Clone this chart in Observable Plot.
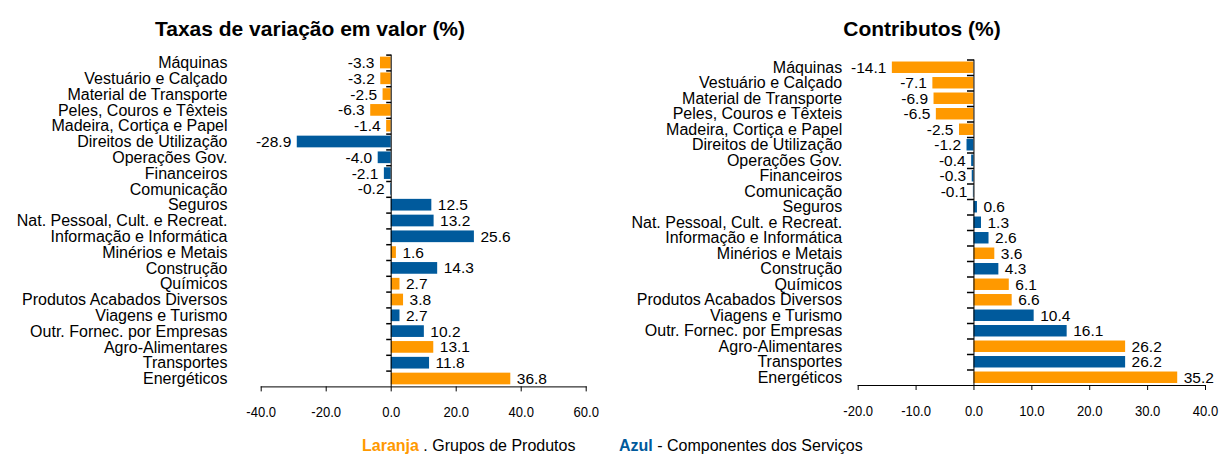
<!DOCTYPE html>
<html><head><meta charset="utf-8">
<script src="https://cdn.jsdelivr.net/npm/d3@7"></script>
<script src="https://cdn.jsdelivr.net/npm/@observablehq/plot@0.6"></script>
<style>
body{margin:0;background:#fff;font-family:"Liberation Sans",Arial,sans-serif;color:#000;}
#wrap{position:relative;width:1219px;height:455px;overflow:hidden;}
.title{position:absolute;top:18px;font-weight:bold;font-size:21px;line-height:21px;text-align:center;white-space:nowrap;}
.chart{position:absolute;top:40px;}
.leg{position:absolute;top:438px;font-size:16px;line-height:16px;white-space:nowrap;}
</style></head><body>
<div id="wrap">
<div class="title" style="left:0;width:620px">Taxas de variação em valor (%)</div>
<div class="title" style="left:609px;width:626px">Contributos (%)</div>
<div class="chart" id="c1" style="left:0"></div>
<div class="chart" id="c2" style="left:609px"></div>
<div class="leg" style="left:362px"><b style="color:#ff9900">Laranja</b> . Grupos de Produtos</div>
<div class="leg" style="left:619px"><b style="color:#005a9c">Azul</b> - Componentes dos Serviços</div>
</div>
<script>
const categories = [
  "Máquinas", "Vestuário e Calçado", "Material de Transporte", "Peles, Couros e Têxteis",
  "Madeira, Cortiça e Papel", "Direitos de Utilização", "Operações Gov.", "Financeiros",
  "Comunicação", "Seguros", "Nat. Pessoal, Cult. e Recreat.", "Informação e Informática",
  "Minérios e Metais", "Construção", "Químicos", "Produtos Acabados Diversos",
  "Viagens e Turismo", "Outr. Fornec. por Empresas", "Agro-Alimentares", "Transportes", "Energéticos"
];
// P = Grupos de Produtos (laranja), S = Componentes dos Serviços (azul)
const groups = ["P","P","P","P","P","S","S","S","S","S","S","S","P","S","P","P","S","S","P","S","P"];
const taxas = [-3.3, -3.2, -2.5, -6.3, -1.4, -28.9, -4.0, -2.1, -0.2, 12.5, 13.2, 25.6, 1.6, 14.3, 2.7, 3.8, 2.7, 10.2, 13.1, 11.8, 36.8];
const contributos = [-14.1, -7.1, -6.9, -6.5, -2.5, -1.2, -0.4, -0.3, -0.1, 0.6, 1.3, 2.6, 3.6, 4.3, 6.1, 6.6, 10.4, 16.1, 26.2, 26.2, 35.2];
const ticksTaxas = [-40, -20, 0, 20, 40, 60];
const ticksContrib = [-20, -10, 0, 10, 20, 30, 40];
const groupKeys = ["P", "S"];
const groupColors = ["#ff9900", "#005a9c"];

function chart({values, ticks, width, height, mL, mR, mT, mB, labelPad, yTick, xPad}) {
  const data = categories.map((c, i) => ({cat: c, grp: groups[i], v: values[i]}));
  const step = (height - mT - mB) / categories.length;
  const tickSym = {draw(ctx) { ctx.moveTo(-yTick, 0); ctx.lineTo(0, 0); }};
  const fmt = d => d.toFixed(1);
  return Plot.plot({
    width, height,
    marginLeft: mL, marginRight: mR, marginTop: mT, marginBottom: mB,
    style: {fontFamily: "'Liberation Sans', Arial, sans-serif", fontSize: "16px", color: "#000", background: "#fff", overflow: "visible"},
    x: {domain: [ticks[0], ticks[ticks.length - 1]], ticks, tickFormat: fmt, line: true, label: null, tickSize: 5, tickPadding: xPad},
    y: {domain: categories, paddingInner: 0.26, paddingOuter: 0.13, round: false, label: null, tickSize: 0, tickPadding: labelPad},
    color: {domain: groupKeys, range: groupColors},
    marks: [
      Plot.barX(data, {x: "v", y: "cat", fill: "grp"}),
      Plot.ruleX([0], {stroke: "#000", strokeWidth: 1}),
      Plot.dot(categories, {x: () => 0, y: d => d, symbol: tickSym, stroke: "#000", fill: "none", dy: -step / 2}),
      Plot.text(data.filter(d => d.v < 0), {x: "v", y: "cat", text: d => fmt(d.v), textAnchor: "end", dx: -6, fontSize: 15.5}),
      Plot.text(data.filter(d => d.v >= 0), {x: "v", y: "cat", text: d => fmt(d.v), textAnchor: "start", dx: 6, fontSize: 15.5})
    ]
  });
}

// condensed look for the x tick labels (emulates a narrow font)
function narrowTicks(svg) {
  d3.select(svg).selectAll('g[aria-label="x-axis tick label"]')
    .attr("font-size", 15)
    .selectAll("text").each(function() {
      const len = this.getComputedTextLength();
      if (len > 0) {
        this.setAttribute("textLength", (len * 0.87).toFixed(2));
        this.setAttribute("lengthAdjust", "spacingAndGlyphs");
      }
    });
}

const s1 = chart({
  values: taxas, ticks: ticksTaxas, width: 609, height: 385,
  mL: 260.7, mR: 23.3, mT: 14.6, mB: 38.6, labelPad: 33.7, yTick: 5, xPad: 14
});
document.getElementById("c1").append(s1);
narrowTicks(s1);
const s2 = chart({
  values: contributos, ticks: ticksContrib, width: 610, height: 385,
  mL: 248.7, mR: 14, mT: 19.5, mB: 40, labelPad: 16, yTick: 7, xPad: 15
});
document.getElementById("c2").append(s2);
narrowTicks(s2);
</script>
</body></html>
